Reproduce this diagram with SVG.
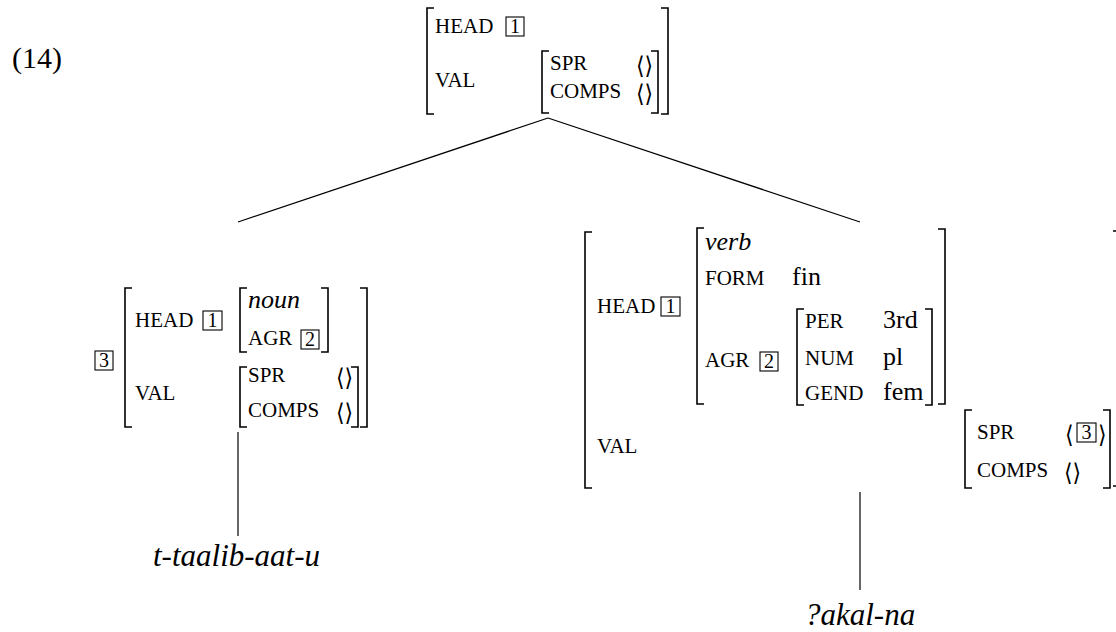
<svg xmlns="http://www.w3.org/2000/svg" width="1116" height="632" viewBox="0 0 1116 632">
<style>
text{font-family:"Liberation Serif","Times New Roman",serif;fill:#000}
.f{font-size:21px}
.v{font-size:26px}
.it{font-style:italic}
.leaf{font-size:31px;font-style:italic}
.ang{font-family:"DejaVu Sans","Noto Sans",sans-serif;font-size:22px}
.d{font-size:20px;text-anchor:middle}
.br{fill:none;stroke:#000;stroke-width:1.6}
.bx{fill:none;stroke:#000;stroke-width:1.1}
.ln{fill:none;stroke:#000;stroke-width:1.2}
</style>
<text x="12" y="68" style="font-size:30px">(14)</text>

<g id="connectors">
<path class="ln" d="M548 118 L238 222"/>
<path class="ln" d="M548 118 L860 222"/>
<path class="ln" d="M238 432 V536"/>
<path class="ln" d="M860 492 V590"/>
</g>

<g id="root">
<path class="br" d="M434 8 H427 V114 H434"/>
<path class="br" d="M661 8 H668 V114 H661"/>
<text class="f" x="435" y="33">HEAD</text>
<rect class="bx" x="506" y="17" width="18" height="19"/>
<text class="d" x="515" y="33">1</text>
<text class="f" x="435" y="87">VAL</text>
<path class="br" d="M549 51 H542 V113 H549"/>
<path class="br" d="M651 51 H658 V113 H651"/>
<text class="f" x="550" y="70">SPR</text>
<text class="ang" transform="translate(636 74) scale(1 1.1)">⟨⟩</text>
<text class="f" x="550" y="98">COMPS</text>
<text class="ang" transform="translate(636 102) scale(1 1.1)">⟨⟩</text>
</g>

<g id="left-node">
<rect class="bx" x="95" y="351" width="18" height="19"/>
<text class="d" x="104" y="367">3</text>
<path class="br" d="M132 288 H125 V427 H132"/>
<path class="br" d="M360 288 H367 V427 H360"/>
<text class="f" x="135" y="327">HEAD</text>
<rect class="bx" x="203" y="311" width="19" height="19"/>
<text class="d" x="212.5" y="327">1</text>
<path class="br" d="M247 288 H240 V352 H247"/>
<path class="br" d="M321 288 H328 V352 H321"/>
<text class="v it" x="248" y="308">noun</text>
<text class="f" x="248" y="345">AGR</text>
<rect class="bx" x="301" y="330" width="18" height="19"/>
<text class="d" x="310" y="346">2</text>
<text class="f" x="135" y="400">VAL</text>
<path class="br" d="M247 367 H240 V427 H247"/>
<path class="br" d="M351 367 H358 V427 H351"/>
<text class="f" x="248" y="382">SPR</text>
<text class="ang" transform="translate(336 386) scale(1 1.1)">⟨⟩</text>
<text class="f" x="248" y="417">COMPS</text>
<text class="ang" transform="translate(336 421) scale(1 1.1)">⟨⟩</text>
</g>

<g id="right-node">
<path class="br" d="M592 232 H585 V488 H592"/>
<path class="br" d="M1113 231 H1118 V486 H1113"/>
<text class="f" x="597" y="313">HEAD</text>
<rect class="bx" x="661" y="297" width="19" height="19"/>
<text class="d" x="670.5" y="313">1</text>
<path class="br" d="M704 228 H697 V404 H704"/>
<path class="br" d="M938 229 H945 V404 H938"/>
<text class="v it" x="705" y="250">verb</text>
<text class="f" x="705" y="285">FORM</text>
<text class="v" x="792" y="285">fin</text>
<text class="f" x="705" y="367">AGR</text>
<rect class="bx" x="760" y="352" width="18" height="19"/>
<text class="d" x="769" y="368">2</text>
<path class="br" d="M804 309 H797 V405 H804"/>
<path class="br" d="M925 309 H932 V405 H925"/>
<text class="f" x="805" y="328">PER</text>
<text class="v" x="883" y="328">3rd</text>
<text class="f" x="805" y="365">NUM</text>
<text class="v" x="883" y="365">pl</text>
<text class="f" x="805" y="400">GEND</text>
<text class="v" x="883" y="400">fem</text>
<text class="f" x="597" y="453">VAL</text>
<path class="br" d="M972 410 H965 V488 H972"/>
<path class="br" d="M1103 410 H1110 V488 H1103"/>
<text class="f" x="977" y="439">SPR</text>
<text class="ang" transform="translate(1065 443) scale(1 1.1)">⟨</text>
<rect class="bx" x="1077" y="423" width="19" height="19"/>
<text class="d" x="1086.5" y="439">3</text>
<text class="ang" transform="translate(1098 443) scale(1 1.1)">⟩</text>
<text class="f" x="977" y="477">COMPS</text>
<text class="ang" transform="translate(1064 481) scale(1 1.1)">⟨⟩</text>
</g>

<g id="leaf-left"><text class="leaf" x="153" y="566">t-taalib-aat-u</text></g>
<g id="leaf-right"><text class="leaf" x="805" y="625">?akal-na</text></g>
</svg>
